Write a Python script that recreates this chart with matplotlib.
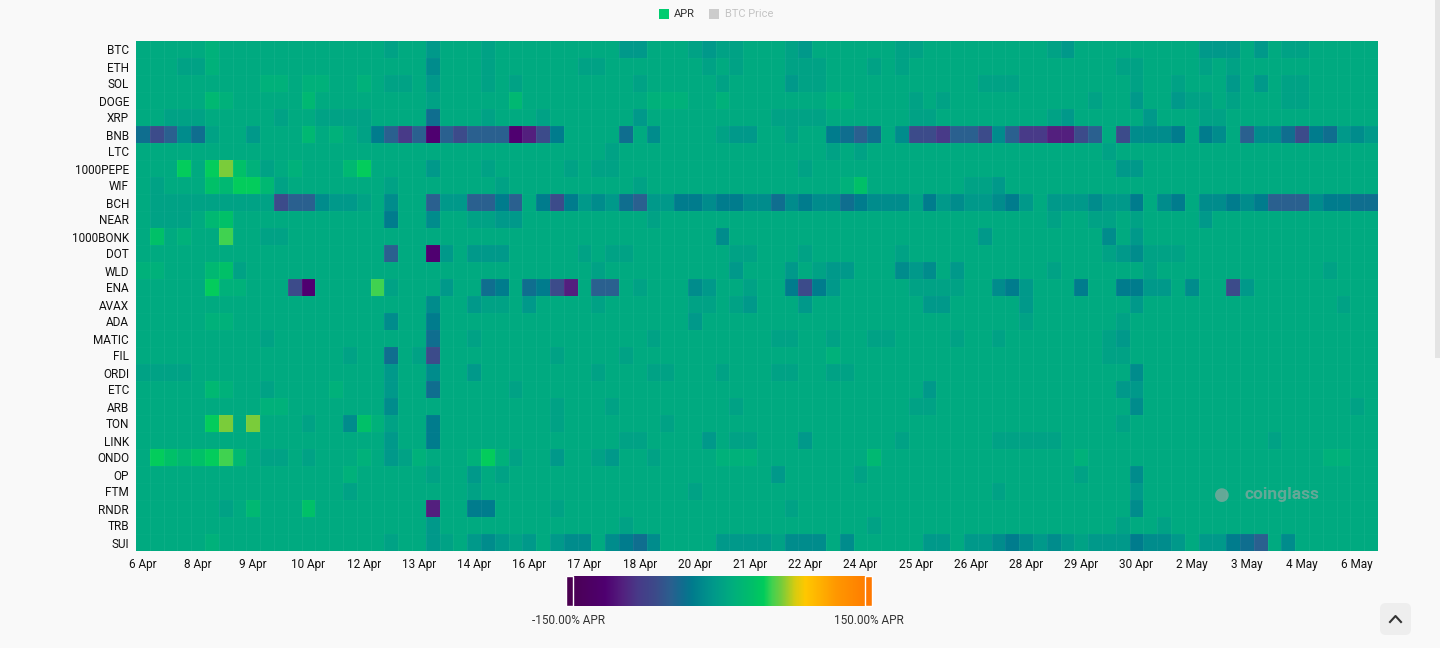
import numpy as np
import matplotlib.pyplot as plt
from matplotlib.colors import LinearSegmentedColormap, Normalize
from matplotlib.patches import Rectangle, FancyBboxPatch
from matplotlib.lines import Line2D

plt.rcParams['font.family'] = ['Roboto', 'DejaVu Sans']

coins = ["BTC", "ETH", "SOL", "DOGE", "XRP", "BNB", "LTC", "1000PEPE", "WIF", "BCH",
         "NEAR", "1000BONK", "DOT", "WLD", "ENA", "AVAX", "ADA", "MATIC", "FIL", "ORDI",
         "ETC", "ARB", "TON", "LINK", "ONDO", "OP", "FTM", "RNDR", "TRB", "SUI"]

date_labels = ["6 Apr", "8 Apr", "9 Apr", "10 Apr", "12 Apr", "13 Apr", "14 Apr", "16 Apr",
               "17 Apr", "18 Apr", "20 Apr", "21 Apr", "22 Apr", "24 Apr", "25 Apr", "26 Apr",
               "28 Apr", "29 Apr", "30 Apr", "2 May", "3 May", "4 May", "6 May"]

# APR (%) for each colour level
level_apr = {"a": -112, "B": -95, "b": -80, "c": -62, "d": -47, "e": -35, "f": -26,
             "g": -15, "h": -5, "i": 3, "j": 10, "k": 17, "l": 25, "m": 34, "n": 44,
             "o": 52, "p": 62}

# one string per coin, one letter per 8h funding period (90 periods)
rows = [
    "jjjjjkjjjj jjjjjjjjij jhjjjijjjj jjjjjhhjjj ihiijjjihj jjjjjiijjj jjjjjjihjj jjjjjjjhhh jhjiijjjjj",
    "jjjiikjjjj jjjjjjjjjj jgjjjijjjj jjiijjjjjj jijijjjiii jjjijijjjj jjjjjjjjjj jiijjjjiji jjjjjjjjjj",
    "jjjjjjjjjk kjkkjjkjii jhjjjijijj jjjjjjijjj jjijjjjhii jjjjjjjjjj jiiijjjjjj jjijjijjjh jhjiijjjjj",
    "jjjjjlkjjj jjljjjjjjj jijjjjjljj jjjjjjjkkk jjkjjjjjjj kkjjjjijij jjjjjjjjji jjhjjhiiji jjjiijjjjj",
    "jjiiijjjjj ijjiiiijjj jejjjijjji jjjjjjhjjj jjjjjjiiii jjjjjjiijj jjjjjjihjj jjjhjjjiij jjjjjjjjjj",
    "ecdgeijjhj jjljkjifdb dadcdddaBc fjjjjejgjj jjihhjjijj fedejgccbd dcgdbbBBcd jcgggfjfgj dggecfehgh",
    "jjjjjjjjjj jjjjjjjjjj jjjjjjjjjj jjjjijjjjj jjjjjjjjjj ijijjjjjjj jjjjjjjjjj ijjjjjjjjj jjjjjjjjjj",
    "jjjnjnpmki jkjjjlnjjj jhjjjijjjj jijiijjjjj jjjjjjjjij jjjjjjjjjj jjjjjjjjjj jhhjjjjjjj jjjjjjjjjj",
    "jijjjmlnnl ijjjjjjjij jjjjjjijjj jjjjjjijjj jjjjjjjjjj jkmjjjjjjj iihjjjjjjj jjjjjjjjjj jjjjjjjjjj",
    "jiiiiiiiii cddghhijgj jdhhddfdjf cfhghedhhf fgffggegfg gefgggifhg hhgfhjhhhg hhfjgfjggf gfdddgffee",
    "jiiijlmjjj jjjjjjjjfj jgjjiihhjj jjjjjjjijj jjjjjjjjjj jjjjjjjjjj jjjjjjijji ijijjjjhjj jjjjjjjjjj",
    "jmjkjjojji ijjjjjjjjj jjjjjjjjjj jjjjjjjjjj jjgjjjjjjj jjjjjjjjjj jhjjjjjjjj gjhjjjjjjj jjjjjjjjjj",
    "jjjjjjjjjj jjjjjjjjdj jahjhhhjjj jjijiijjjj jjjiijjjij jjjjjijjjj jjjjjjjjjj ihgiiijjjj jjjjjjjjjj",
    "kkjjjlmijj jjjjjjjjjj jjjjjjjjjj jjjijjjjjj jjjhjjjhji hhjjjghgjh jjjjjjijjj jjjijjjjjj jjjjjjijjj",
    "jjjjjnkkjj jcajjjjoij jjhjjefjef cBjddjijjj ghjjijjfcf hjjjjjiiii jjgfhjjjfj jffhhjgjjc hjjjjjjjjj",
    "jjjjjjjjjj jjjjjjjjjj jgjjhiijhj jjjijjjjjj iijihjjjhj jjjjjjjhhj jjjjhjjjjj jjhjjjjjjj jjjjjjjijj",
    "jjjjjkkjjj jjjjjjjjgj jfjjjjjjjj jjjjjjjjjj hjjjjjjjjj jjjjjjjjjj jjjjijjjjj jijjjjjjjj jjjjjjjjjj",
    "jjjjjjjjji jjjjjjjjjj jejjijjjjj jjjjjjjijj jjjjjjiijj ijjiijjjji jjijjjjjjj ihjjjjjjjj jjjjjjjjjj",
    "jjjjjjjjjj jjjjjijjej icjjjjjjjj ijjjjijjjj jjjjjjjjjj kjjjjjjjjj jjjjjjjjjj iijjjjjjjj jjjjjjjjjj",
    "iiiijjjjjj jjjjjjjjhj jgjjhjjjjj jjjijjjiij jjijjjiijj iijjjjjjjj jjjjjjjjjj jjgjjjjjjj jjjjjjjjjj",
    "jjjjjlkjji jjjjkjjjhj jejjjjjijj jjjjjjjjjj jjjjjjjjjj jjjjjjjhjj jjjjjjjjjj jhhjjjjjjj jjjjjjjjjj",
    "jjjjjjjjjk kjjjjjjjgj jjjjjjjjjj ijjjijjjjj jjjijjjjjj jjjjjjiijj jjjjjjjjjj jjgjjjjjjj jjjjjjjjij",
    "jjjjjnpjpj jjijjgmkij jfjjjjjjjj ijjjjjjjij jjjjjjjjjj jjjjjjjjjj jjjjjjjjjj jijjjjjjjj jjjjjjjjjj",
    "jjjjjjjjjj jjjjjjjjhj jfjjjjjjjj jjjjjiijjj jhjiijjjhj jjjjjijjjj jjiiiiijjj jjjjjjjjjj jjijjjjjjj",
    "jnmlmnolji ijijjjkjhi kjjjknkijj hjjihjjijj jjkkkjjjjj jjjljjjjjj jjjjjjjjkj jjjjjjjjjj jjjjjjkkjj",
    "jjjjjjjjjj jjjjjkjjjj jijjhjijjj jjjjjjjjjj jjjjjjhjjj jjijjjjjjj jjjjjjjjij jjgjjjjjjj jjjjjjjjjj",
    "jjjjjjjjjj jjjjjijjjj jjjjijjjjj jjjjjjjjjj ijjjjjjjjj jjjjjjjjjj jjijjjjjjj jjhjjjjjjj jjjjjjjjjj",
    "jjjjjjijlj jjmjjjjjjj jBjjffjjjj ijjjjjjjjj jjjjjjjijj jjjjjjjjjj jjjjjjjjjj jjgjjjjjjj jjjjjjjjjj",
    "jjjjjjjjjj jjjjjjjjjj jhjjjjjjjj jjjjjijjjj jjjjjjjjjj jjjijjjjjj jjjjjjjjjj jijjijjjjj jjjjjjjjjj",
    "jjjjjkjjjj jjjjjjjjij jhijhghihj hggjgfegjj jjhhhhiggg jgjjjjjhhj hhgfghghih hhfgghjhhf edjgjjjjjj",
]

apr = np.array([[level_apr[c] for c in r.replace(" ", "")] for r in rows], dtype=float)

# colour scale anchors (APR %, colour) matching the gradient bar
stops = [(-150, "#4a0050"), (-112, "#4f0070"), (-95, "#53207e"), (-80, "#483a88"),
         (-62, "#3c4b8a"), (-47, "#2a608f"), (-35, "#0f6e8f"), (-26, "#007c8d"),
         (-15, "#008c8c"), (-5, "#00998a"), (3, "#00a285"), (10, "#00aa80"),
         (17, "#00b17a"), (25, "#00b872"), (34, "#00c068"), (44, "#00cc5c"),
         (52, "#40d250"), (62, "#7acc3a"), (75, "#d8cc10"), (85, "#ffc800"),
         (115, "#ff9800"), (150, "#ff7800")]
cmap = LinearSegmentedColormap.from_list(
    "apr", [((v + 150) / 300, c) for v, c in stops], N=512)
norm = Normalize(vmin=-150, vmax=150)

W, H = 1440, 648
bg = "#f9f9f9"
fig = plt.figure(figsize=(W / 100, H / 100), dpi=100, facecolor=bg)

ax = fig.add_axes([136 / W, 1 - 551 / H, 1242 / W, 510 / H])
ax.pcolormesh(np.arange(apr.shape[1] + 1), np.arange(apr.shape[0] + 1), apr,
              cmap=cmap, norm=norm, edgecolors="none")
# faint column separators
for xc in range(1, apr.shape[1]):
    ax.axvline(xc, color="white", alpha=0.06, linewidth=0.6)
for yr in range(1, apr.shape[0]):
    ax.axhline(yr, color="white", alpha=0.025, linewidth=0.6)
ax.set_xlim(0, apr.shape[1])
ax.set_ylim(apr.shape[0], 0)
ax.set_yticks(np.arange(len(coins)) + 0.5)
ax.set_yticklabels(coins, fontsize=8.5, color="#111111")
ax.set_xticks(np.arange(0, 4 * len(date_labels), 4) + 0.5)
ax.set_xticklabels(date_labels, fontsize=8.5, color="#111111")
ax.tick_params(length=0, pad=5)
for s in ax.spines.values():
    s.set_visible(False)

# watermark
ax.text(0.923, 0.11, "coinglass", transform=ax.transAxes, fontsize=12.5,
        fontweight="bold", color="#a8a8a8", alpha=0.6, ha="center", va="center")
ax.text(0.874, 0.11, "\u25cf", transform=ax.transAxes, fontsize=13,
        color="#a8a8a8", alpha=0.6, ha="center", va="center")

# gradient bar with end handles
cax = fig.add_axes([566 / W, 1 - 606 / H, 306 / W, 30 / H])
cax.imshow(np.linspace(-150, 150, 600)[None, :], cmap=cmap, norm=norm,
           aspect="auto", extent=[-150, 150, 0, 1])
cax.set_xlim(-150, 150)
cax.set_ylim(0, 1)
cax.set_axis_off()
for x0, c in [(-150, cmap(0.0)), (143, cmap(1.0))]:
    cax.add_patch(Rectangle((x0, 0), 7, 1, facecolor=c, edgecolor="white",
                            linewidth=1.0, clip_on=False))
fig.text(569 / W, 1 - 620 / H, "-150.00% APR", fontsize=8.5, color="#333333",
         ha="center", va="center")
fig.text(869 / W, 1 - 620 / H, "150.00% APR", fontsize=8.5, color="#333333",
         ha="center", va="center")

# legend on top
fig.patches.append(Rectangle((659 / W, 1 - 19 / H), 10 / W, 10 / H,
                             transform=fig.transFigure, facecolor="#00cc70", edgecolor="none"))
fig.text(674 / W, 1 - 14 / H, "APR", fontsize=8, color="#333333", va="center")
fig.patches.append(Rectangle((709 / W, 1 - 19 / H), 10 / W, 10 / H,
                             transform=fig.transFigure, facecolor="#cccccc", edgecolor="none"))
fig.text(725 / W, 1 - 14 / H, "BTC Price", fontsize=8, color="#c4c4c4", va="center")

# scrollbar and back-to-top button
fig.patches.append(Rectangle((1435 / W, 1 - 358 / H), 5 / W, 358 / H,
                             transform=fig.transFigure, facecolor="#e4e4e4", edgecolor="none"))
fig.patches.append(FancyBboxPatch((1380 / W, 1 - 635 / H), 31 / W, 32 / H,
                                  boxstyle="round,pad=0,rounding_size=0.004",
                                  mutation_aspect=W / H, transform=fig.transFigure,
                                  facecolor="#eeeeee", edgecolor="none"))
fig.lines.append(Line2D([1390 / W, 1395.5 / W, 1401 / W],
                        [1 - 622 / H, 1 - 616 / H, 1 - 622 / H],
                        transform=fig.transFigure, color="#333333", linewidth=1.5))

fig.savefig("out.png", dpi=100, facecolor=bg)
